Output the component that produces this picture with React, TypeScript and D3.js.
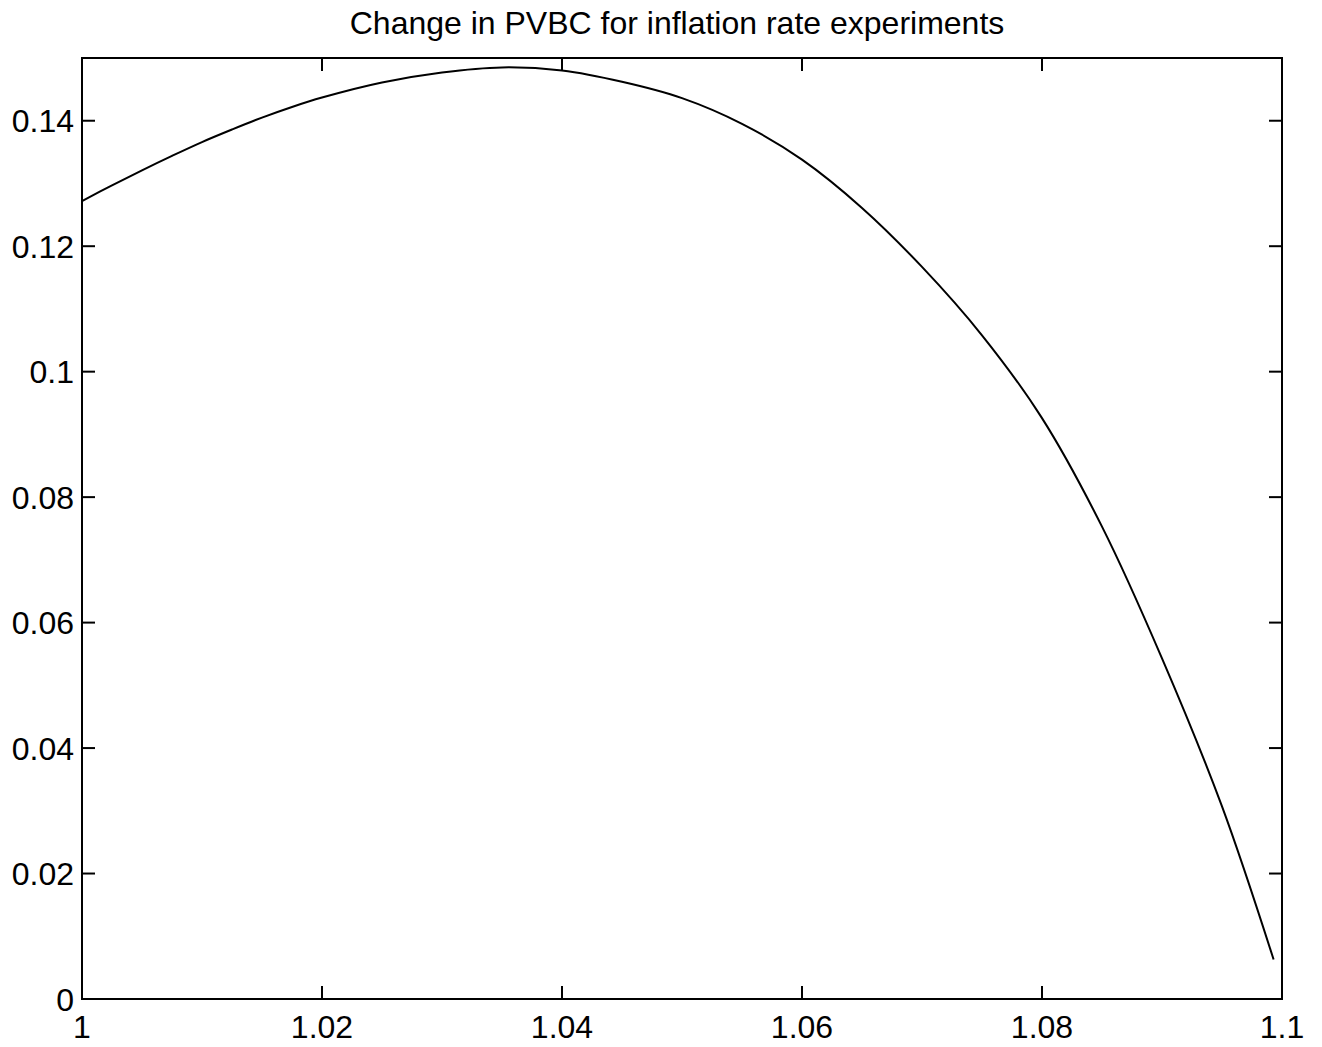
import React, { useEffect } from 'react';
import * as d3 from 'd3';

// Inflation rate (gross) and the change in PVBC
const inflationRates = [
  1.0, 1.0025, 1.005, 1.0075, 1.01, 1.0125, 1.015, 1.0175, 1.02, 1.025, 1.03, 1.035, 1.04,
  1.045, 1.05, 1.055, 1.06, 1.065, 1.07, 1.075, 1.08, 1.085, 1.09, 1.095, 1.0993,
];
const pvbcChange = [
  0.1272, 0.1297, 0.1321, 0.1344, 0.1366, 0.1386, 0.1405, 0.1422, 0.1437, 0.1461, 0.1477,
  0.1485, 0.148, 0.1462, 0.1436, 0.1395, 0.1338, 0.1261, 0.1167, 0.1058, 0.0926, 0.0753,
  0.0543, 0.0307, 0.0063,
];

const xTicks = [1, 1.02, 1.04, 1.06, 1.08, 1.1];
const yTicks = [0, 0.02, 0.04, 0.06, 0.08, 0.1, 0.12, 0.14];
const title = 'Change in PVBC for inflation rate experiments';

const width = 1322;
const height = 1047;
const margin = { top: 58, right: 40, bottom: 48, left: 82 };
const tickLen = 13;
const font = '"Liberation Sans", Arial, Helvetica, sans-serif';

const App: React.FC = () => {
  useEffect(() => {
    document.body.style.margin = '0';
  }, []);

  const x = d3
    .scaleLinear()
    .domain([1, 1.1])
    .range([margin.left, width - margin.right]);
  const y = d3
    .scaleLinear()
    .domain([0, 0.15])
    .range([height - margin.bottom, margin.top]);

  const points = inflationRates.map((r, i) => [r, pvbcChange[i]] as [number, number]);
  const line = d3
    .line<[number, number]>()
    .x((d) => x(d[0]))
    .y((d) => y(d[1]))
    .curve(d3.curveCatmullRom.alpha(0.5));

  const [x0, x1] = x.range();
  const [y0, y1] = y.range();
  const fmtX = (v: number) => (v === 1 ? '1' : String(+v.toFixed(2)));
  const fmtY = (v: number) => String(+v.toFixed(2));

  return (
    <svg width={width} height={height} style={{ display: 'block', background: '#fff' }}>
      <text
        x={(x0 + x1) / 2 - 5}
        y={34}
        textAnchor="middle"
        fontFamily={font}
        fontSize={32}
        fill="#000"
      >
        {title}
      </text>

      <path d={line(points) ?? ''} fill="none" stroke="#000" strokeWidth={2} />

      {/* ticks on all four sides, pointing inward */}
      <g stroke="#000" strokeWidth={2}>
        {xTicks.map((t) => (
          <g key={`xt${t}`}>
            <line x1={x(t)} x2={x(t)} y1={y0} y2={y0 - tickLen} />
            <line x1={x(t)} x2={x(t)} y1={y1} y2={y1 + tickLen} />
          </g>
        ))}
        {yTicks.map((t) => (
          <g key={`yt${t}`}>
            <line x1={x0} x2={x0 + tickLen} y1={y(t)} y2={y(t)} />
            <line x1={x1} x2={x1 - tickLen} y1={y(t)} y2={y(t)} />
          </g>
        ))}
      </g>

      <rect
        x={x0}
        y={y1}
        width={x1 - x0}
        height={y0 - y1}
        fill="none"
        stroke="#000"
        strokeWidth={2}
      />

      <g fontFamily={font} fontSize={32} fill="#000">
        {xTicks.map((t) => (
          <text key={`xl${t}`} x={x(t)} y={y0 + 39} textAnchor="middle">
            {fmtX(t)}
          </text>
        ))}
        {yTicks.map((t) => (
          <text key={`yl${t}`} x={x0 - 8} y={y(t)} dy="0.36em" textAnchor="end">
            {fmtY(t)}
          </text>
        ))}
      </g>
    </svg>
  );
};

export default App;
